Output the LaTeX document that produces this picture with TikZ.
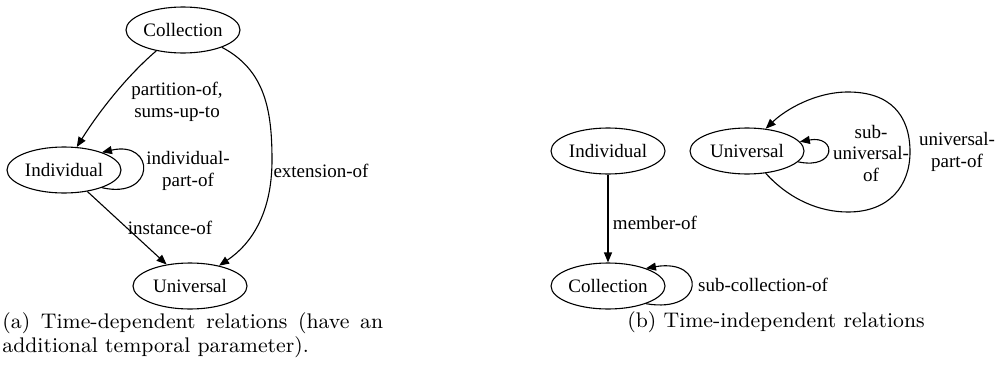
\documentclass[tikz,border=0pt]{standalone}
\usepackage{fontspec}
\newfontfamily\nodefont{Liberation Serif}
\usetikzlibrary{shapes.geometric,arrows.meta}
\begin{document}
\begin{tikzpicture}[x=1pt,y=-1pt,
  every node/.style={inner sep=0pt},
  gnode/.style={draw,ellipse,line width=1.1pt,minimum width=114pt,minimum height=46pt,font=\nodefont\fontsize{19}{21.5}\selectfont},
  elabel/.style={align=center,font=\nodefont\fontsize{19}{21.5}\selectfont},
  arr/.style={line width=1.1pt,-{Triangle[length=10pt,width=8pt]}},
  capt/.style={font=\fontsize{9}{10.3}\selectfont,scale=2.35,transform shape}
]
\path[use as bounding box] (0,0) rectangle (998,383);
% (a)
\node[gnode] (cA) at (183,30) {Collection};
\node[gnode] (iA) at (64,170) {Individual};
\node[gnode] (uA) at (190,286) {Universal};
\draw[arr] (cA.218) .. controls (128,75) and (100,110) .. (iA.61);
\draw[arr] (iA.-25) .. controls (156,200) and (156,140) .. (iA.25);
\draw[arr] (iA) -- (uA);
\draw[arr] (cA.-24) .. controls (265,70) and (272,110) .. (272,160)
  .. controls (272,215) and (250,245) .. (uA.35);
\node[elabel] (l1) at (177,102) {partition-of,\\sums-up-to};
\node[elabel] (l2) at (188,171) {individual-\\part-of};
\node[elabel] (l3) at (321,171) {extension-of};
\node[elabel] (l4) at (170,228) {instance-of};
% (b)
\node[gnode] (iB) at (608,151) {Individual};
\node[gnode] (uB) at (747,151) {Universal};
\node[gnode] (cB) at (608,286) {Collection};
\draw[arr] (iB) -- (cB);
\draw[arr] (cB.-25) .. controls (706,314) and (706,258) .. (cB.25);
\draw[arr] (uB.-12) .. controls (837,170) and (837,135) .. (uB.10);
\draw[arr] (uB.-50) .. controls (790,200) and (820,212) .. (848,212)
  .. controls (890,212) and (910,185) .. (910,152)
  .. controls (910,115) and (890,92) .. (848,92)
  .. controls (815,92) and (785,110) .. (uB.50);
\node[elabel] (l5) at (655,223) {member-of};
\node[elabel] (l6) at (763,285) {sub-collection-of};
\node[elabel] (l7) at (871,153) {sub-\\universal-\\of};
\node[elabel] (l8) at (957,152) {universal-\\part-of};
% captions
\node[capt,anchor=north west,text width=162pt,align=justify] (ca) at (2,312) {(a) Time-dependent relations (have an\linebreak additional temporal parameter).};
\node[capt] (cb) at (776,322) {(b) Time-independent relations};
\end{tikzpicture}
\end{document}
